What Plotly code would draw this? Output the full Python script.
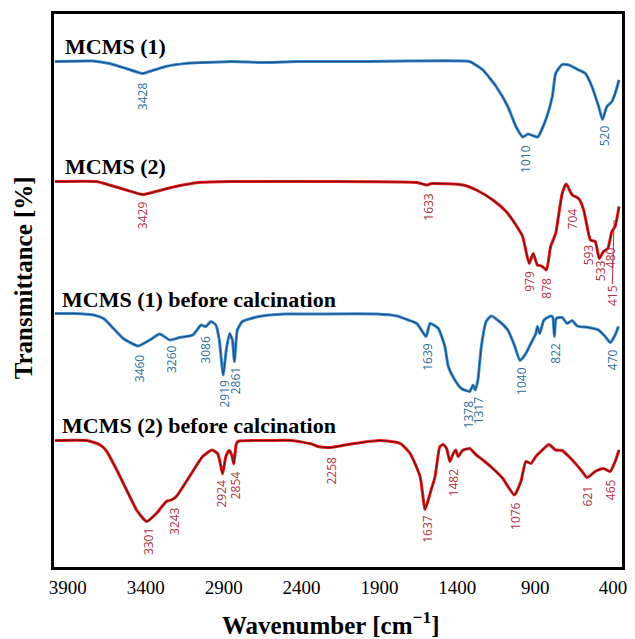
import plotly.graph_objects as go

# ---------------- data (wavenumber in cm-1, stacked transmittance in a.u.) ----------------
wn1 = [3983, 3739, 3633, 3526, 3421, 3378, 3272, 3145, 3017, 2848, 2636, 2424, 2296, 1978, 1724,
       1363, 1321, 1236, 1151, 1076, 1024, 979, 947, 909, 884, 833, 790, 769, 727, 684, 621, 578,
       536, 493, 468, 440, 408, 387, 362]
t1 = [101.1, 101.2, 100.7, 99.7, 98.7, 99.1, 100.1, 100.7, 100.9, 101.1, 100.9, 101.1, 101.1, 101.1, 101.2,
      101.2, 101.1, 99.4, 96.1, 92.1, 88.1, 86.0, 86.6, 86.2, 86.0, 89.4, 94.1, 98.7, 100.5, 100.4, 99.4, 98.7,
      96.1, 92.1, 89.5, 92.1, 93.1, 94.7, 97.4]

wn2 = [3983, 3717, 3633, 3526, 3421, 3336, 3208, 3060, 2848, 2296, 1660, 1596, 1564, 1363, 1278, 1172,
       1087, 1024, 981, 939, 913, 886, 858, 828, 801, 769, 727, 701, 663, 621, 589, 567, 546, 515,
       489, 462, 434, 408, 387, 362]
t2 = [77.1, 77.1, 76.4, 75.4, 74.5, 75.1, 76.1, 76.9, 77.1, 77.1, 76.9, 76.4, 76.7, 76.4, 75.4, 73.4,
      71.1, 68.4, 66.1, 60.7, 62.7, 60.4, 60.2, 59.4, 64.1, 66.7, 74.7, 76.6, 74.4, 73.7, 71.4, 68.1, 65.4, 65.1,
      61.7, 63.1, 63.7, 67.1, 68.1, 72.1]

wn3 = [3983, 3862, 3735, 3671, 3607, 3544, 3448, 3374, 3310, 3246, 3183, 3098, 3045, 3014, 2982, 2950,
       2928, 2903, 2882, 2861, 2844, 2831, 2812, 2780, 2674, 2504, 2335, 1915, 1787, 1724, 1660, 1601,
       1575, 1522, 1480, 1458, 1416, 1374, 1321, 1299, 1285, 1268, 1246, 1215, 1183, 1130, 1076, 1034,
       998, 960, 928, 896, 886, 871, 844, 801, 788, 777, 765, 727, 695, 663, 631, 557, 494, 451, 419,
       387, 366]
t3 = [50.7, 50.7, 50.4, 49.7, 47.7, 45.7, 44.2, 45.4, 46.6, 45.4, 45.9, 46.4, 48.4, 48.1, 49.1, 48.4,
      45.4, 38.4, 43.7, 46.7, 45.4, 41.1, 47.4, 49.1, 50.1, 50.6, 50.6, 50.6, 50.2, 49.5, 48.7, 46.1,
      48.7, 47.7, 44.1, 40.1, 37.4, 35.7, 35.1, 36.4, 35.4, 37.4, 44.1, 49.1, 50.2, 49.1, 47.4, 44.4,
      41.3, 42.7, 44.7, 46.7, 48.1, 46.7, 49.4, 50.2, 50.0, 46.1, 49.7, 49.9, 48.7, 49.3, 48.2, 47.9, 47.4,
      46.1, 44.9, 46.4, 48.1]

wn4 = [3983, 3777, 3692, 3650, 3586, 3523, 3459, 3395, 3332, 3268, 3236, 3204, 3119, 3035, 2975, 2939,
       2924, 2907, 2886, 2865, 2848, 2835, 2818, 2801, 2610, 2462, 2335, 2296, 2212, 2084, 1894, 1766,
       1703, 1639, 1607, 1575, 1543, 1512, 1490, 1469, 1448, 1426, 1410, 1395, 1367, 1321, 1278, 1236,
       1172, 1108, 1034, 992, 960, 928, 896, 854, 812, 769, 727, 684, 642, 599, 567, 515, 462, 419,
       387, 362]
t4 = [25.3, 25.3, 24.4, 23.1, 19.4, 15.4, 11.4, 9.1, 10.7, 13.1, 13.4, 14.1, 18.1, 22.1, 23.4, 22.7,
      21.1, 18.6, 22.1, 23.3, 22.4, 20.6, 24.7, 25.2, 25.3, 25.3, 24.6, 24.1, 23.9, 24.6, 25.3, 24.7,
      22.7, 18.1, 11.5, 14.7, 18.1, 24.1, 24.5, 23.7, 21.1, 22.7, 23.4, 22.1, 23.3, 23.7, 22.4, 21.4,
      19.7, 17.7, 14.4, 17.1, 21.1, 20.7, 22.1, 23.4, 24.5, 23.4, 23.3, 22.1, 20.7, 19.1, 17.9, 19.1,
      19.7, 19.1, 21.1, 23.4]

series_names = ["MCMS (1)", "MCMS (2)", "MCMS (1) before calcination", "MCMS (2) before calcination"]
name_y = [104.2, 80.2, 53.6, 28.4]

# peak labels: text, x position, y position
peaks1_txt = ["3428", "1010", "520"]
peaks1_x = [3423, 966, 457]
peaks1_y = [94.2, 81.6, 86.2]

peaks2_txt = ["3429", "1633", "979", "878", "704", "593", "533", "480"]
peaks2_x = [3423, 1590, 941, 833, 661, 559, 483, 419]
peaks2_y = [70.4, 72.0, 57.2, 55.8, 69.6, 62.4, 59.2, 61.8]

peaks3_txt = ["3460", "3260", "3086", "2919", "2861", "1639", "1378", "1317", "1040", "822", "470"]
peaks3_x = [3442, 3238, 3022, 2901, 2825, 1596, 1329, 1265, 992, 775, 406]
peaks3_y = [39.8, 41.6, 43.4, 34.6, 37.2, 42.0, 30.6, 31.4, 37.2, 42.8, 41.4]

peaks4_txt = ["3301", "3243", "2924", "2854", "2258", "1637", "1482", "1076", "621", "465"]
peaks4_x = [3385, 3219, 2920, 2825, 2214, 1596, 1425, 1030, 565, 419]
peaks4_y = [5.0, 9.2, 14.6, 16.4, 19.2, 7.6, 17.0, 10.2, 14.2, 15.4]

x_ticks = [3900, 3400, 2900, 2400, 1900, 1400, 900, 400]

# ---------------- styling ----------------
BLUE_HALO, BLUE_CORE, BLUE_TXT = "#3f8fd0", "#174a80", "#2f6f9c"
RED_HALO, RED_CORE, RED_TXT = "#ee1c1c", "#6a0f0f", "#b3303e"
SERIF = "Liberation Serif, Times New Roman, serif"

fig = go.Figure()
spectra = [(wn1, t1, "b"), (wn2, t2, "r"), (wn3, t3, "b"), (wn4, t4, "r")]
for (x, y, c), nm in zip(spectra, series_names):
    halo = BLUE_HALO if c == "b" else RED_HALO
    core = BLUE_CORE if c == "b" else RED_CORE
    fig.add_trace(go.Scatter(x=x, y=y, mode="lines", name=nm, showlegend=False,
                             line=dict(color=halo, width=3.0, shape="spline", smoothing=0.5),
                             hoverinfo="skip"))
    fig.add_trace(go.Scatter(x=x, y=y, mode="lines", name=nm, showlegend=False,
                             line=dict(color=core, width=1.1, shape="spline", smoothing=0.5)))

annotations = []
lab_font = "Open Sans, Noto Sans, sans-serif"
for txts, xs, ys, col in [(peaks1_txt, peaks1_x, peaks1_y, BLUE_TXT),
                          (peaks2_txt, peaks2_x, peaks2_y, RED_TXT),
                          (peaks3_txt, peaks3_x, peaks3_y, BLUE_TXT),
                          (peaks4_txt, peaks4_x, peaks4_y, RED_TXT)]:
    for t, xx, yy in zip(txts, xs, ys):
        annotations.append(dict(x=xx, y=yy, xref="x", yref="y", text=t, showarrow=False,
                                textangle=-90, font=dict(family=lab_font, size=12, color=col)))

# 415 label with leader line
annotations.append(dict(x=394, y=69.4, xref="x", yref="y", text="415", showarrow=True,
                        arrowhead=0, arrowwidth=1, arrowcolor=RED_TXT, ax=-2, ay=76,
                        textangle=-90, font=dict(family=lab_font, size=12, color=RED_TXT)))

# series titles
for nm, yy, xp in zip(series_names, name_y, [0.0157, 0.0157, 0.0105, 0.0105]):
    annotations.append(dict(x=xp, y=yy, xref="paper", yref="y", text="<b>%s</b>" % nm,
                            showarrow=False, xanchor="left", yanchor="middle",
                            font=dict(family=SERIF, size=22, color="black")))

# axis titles
annotations.append(dict(x=-0.054, y=0.5226, xref="paper", yref="paper",
                        text="<b>Transmittance [%]</b>", showarrow=False, textangle=-90,
                        xanchor="center", yanchor="middle",
                        font=dict(family=SERIF, size=25, color="black")))
annotations.append(dict(x=0.487, y=-0.101, xref="paper", yref="paper",
                        text="<b>Wavenumber [cm<sup>−1</sup>]</b>", showarrow=False,
                        xanchor="center", yanchor="middle",
                        font=dict(family=SERIF, size=25, color="black")))

fig.update_layout(
    width=635, height=639,
    margin=dict(l=54, r=8, t=14, b=72),
    paper_bgcolor="white", plot_bgcolor="white",
    annotations=annotations,
    xaxis=dict(range=[3989, 343], tickvals=x_ticks, ticktext=[str(v) for v in x_ticks],
               showgrid=False, zeroline=False, showline=True, linecolor="black", linewidth=3,
               mirror=True, ticks="outside", ticklen=1, tickcolor="rgba(0,0,0,0)",
               tickfont=dict(family=SERIF, size=19, color="black")),
    yaxis=dict(range=[0, 110.6], showticklabels=False, showgrid=False, zeroline=False,
               showline=True, linecolor="black", linewidth=3, mirror=True, ticks=""),
)

fig.write_html("out.html", config={"displayModeBar": False},
               post_script="document.body.style.margin='0';document.body.style.overflow='hidden';")
